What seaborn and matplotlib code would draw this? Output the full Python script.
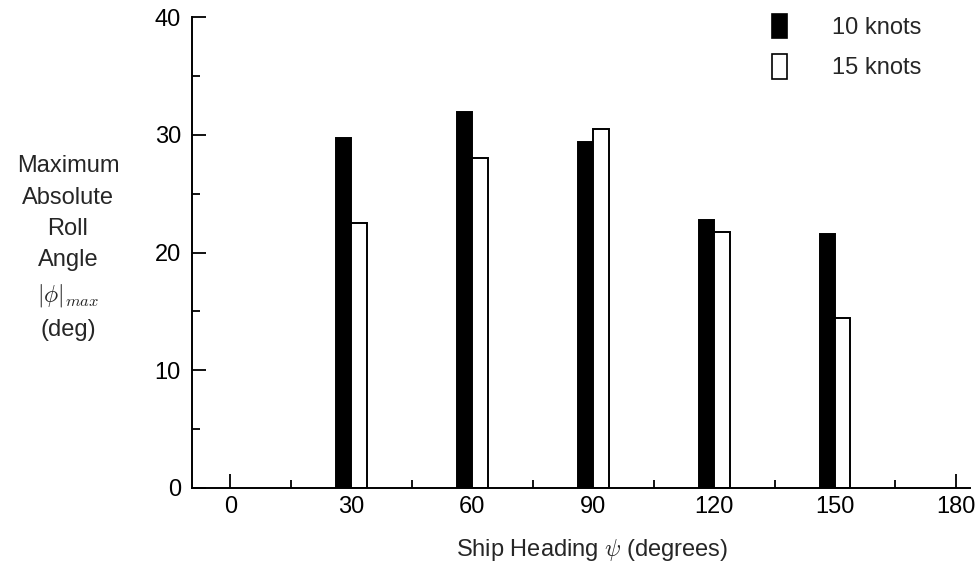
import matplotlib
matplotlib.use("Agg")
import matplotlib.pyplot as plt
from matplotlib.patches import Patch
from matplotlib.ticker import MultipleLocator
import seaborn as sns
import pandas as pd

# ---- data ----
headings = [30, 60, 90, 120, 150]
roll_10kn = [29.7, 31.9, 29.4, 22.75, 21.6]
roll_15kn = [22.5, 28.0, 30.5, 21.7, 14.45]
series_labels = ["10 knots", "15 knots"]
x_ticks = [0, 30, 60, 90, 120, 150, 180]
y_ticks = [0, 10, 20, 30, 40]

df = pd.DataFrame({
    "heading": headings * 2,
    "roll": roll_10kn + roll_15kn,
    "speed": [series_labels[0]] * len(headings) + [series_labels[1]] * len(headings),
})

sns.set_theme(style="ticks")
plt.rcParams["font.family"] = ["Liberation Sans", "DejaVu Sans"]
plt.rcParams["mathtext.fontset"] = "cm"

FS = 17
W, H = 979, 569
fig = plt.figure(figsize=(W / 100, H / 100), dpi=100)
ax = fig.add_axes([192 / W, 1 - 488 / H, (970 - 192) / W, (488 - 17) / H])

palette = {series_labels[0]: "black", series_labels[1]: "white"}
sns.barplot(data=df, x="heading", y="roll", hue="speed", native_scale=True,
            palette=palette, dodge=True, width=0.255, gap=0,
            edgecolor="black", linewidth=1.4, saturation=1, legend=False, ax=ax)

ax.set_xlim(-9.55, 183.5)
ax.set_ylim(0, 40)
ax.set_xticks(x_ticks)
ax.set_xticklabels([str(v) for v in x_ticks])
ax.set_yticks(y_ticks)
ax.set_yticklabels([str(v) for v in y_ticks])
ax.xaxis.set_minor_locator(MultipleLocator(15))
ax.yaxis.set_minor_locator(MultipleLocator(5))
ax.tick_params(which="major", direction="in", length=10, width=1.3,
               labelsize=FS, color="black", labelcolor="black")
ax.tick_params(axis="x", which="major", pad=6)
ax.tick_params(axis="y", which="major", pad=8)
ax.tick_params(which="minor", direction="in", length=6, width=1.3, color="black")
ax.set_xlabel("")
ax.set_ylabel("")
for s in ["top", "right"]:
    ax.spines[s].set_visible(False)
for s in ["left", "bottom"]:
    ax.spines[s].set_color("black")
    ax.spines[s].set_linewidth(1.4)
ax.set_facecolor("white")

handles = [Patch(facecolor=palette[l], edgecolor="black", linewidth=1.2) for l in series_labels]
fig.legend(handles, series_labels, loc="upper left",
           bbox_to_anchor=(772 / W, 1 - 14 / H), frameon=False, fontsize=FS,
           handlelength=0.64, handleheight=1.2, handletextpad=1.9,
           labelspacing=0.65, borderpad=0, borderaxespad=0)

fig.text(68 / W, 1 - 248 / H,
         "Maximum\nAbsolute\nRoll\nAngle\n$|\\phi|_{max}$\n(deg)",
         ha="center", va="center", multialignment="center",
         fontsize=FS, linespacing=1.55)
fig.text(592 / W, 1 - 550 / H, "Ship Heading $\\psi$ (degrees)",
         ha="center", va="center", fontsize=FS)

fig.savefig("out.png", dpi=100, facecolor="white")
